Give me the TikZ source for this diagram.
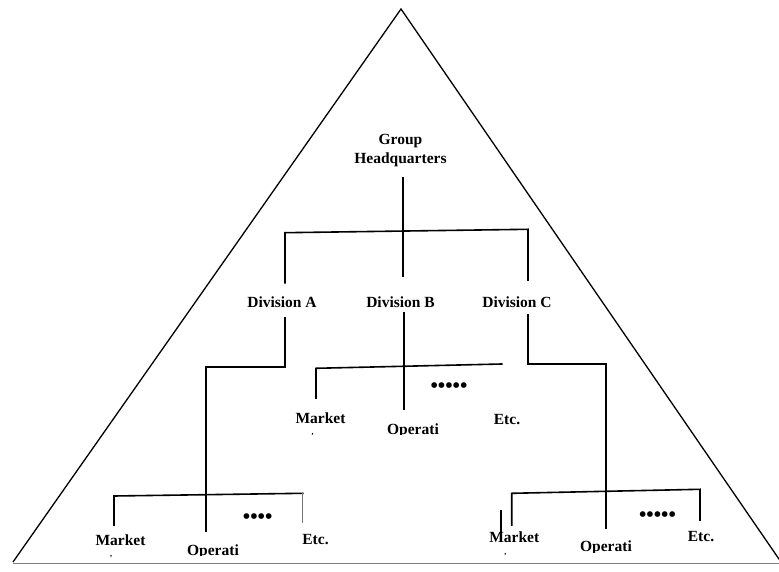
\documentclass[tikz,border=0pt]{standalone}
\usepackage{fontspec}
\setmainfont{Liberation Serif}
% a clipped second-line mark set just below a word, inside the same text
\newcommand{\lowmark}[1]{\rlap{\hspace{#1}\raisebox{-11.5pt}{\fontsize{8}{8}\selectfont,}}}
\begin{document}
\begin{tikzpicture}[x=1pt,y=-1pt,
  lbl/.style={font=\bfseries\fontsize{15.5}{18}\selectfont, inner sep=0pt, anchor=base},
  dots/.style={font=\bfseries\fontsize{21}{21}\selectfont, inner sep=0pt},
  org/.style={line width=1.6pt, line cap=rect},
  thin/.style={line width=0.9pt, black!55},
  side/.style={line width=1.3pt}]
\useasboundingbox (0,0) rectangle (779,572);

% pyramid outline and base rule
\begin{scope}
  \clip (0,0) rectangle (779,572);
  \coordinate (apex) at (401,9);
  \coordinate (bl) at (13,562);
  \coordinate (br) at (781,562);
  \draw[side] (bl) -- (apex) -- (br);
  \coordinate (rule0) at (13,563.5);
  \coordinate (rule1) at (779,563.5);
  \draw[line width=1.6pt, black!50] (rule0) -- (rule1);
\end{scope}

% top level
\node[lbl] (hq1) at (400.5,145) {Group};
\node[lbl] (hq2) at (400.5,163.5) {Headquarters};

\node[lbl] (divA) at (282,307.5) {Division A};
\node[lbl] (divB) at (400.5,307) {Division B};
\node[lbl] (divC) at (517,307) {Division C};

% headquarters to divisions
\coordinate (hqT) at (403,178);
\coordinate (hqB) at (403,276);
\coordinate (barL) at (285,232.7);
\coordinate (barR) at (528,229.3);
\coordinate (aT) at (285,282.7);
\coordinate (cT) at (528,280);
\draw[org] (hqT) -- (hqB);
\draw[org] (aT) -- (barL) -- (barR) -- (cT);

% Division B branch
\coordinate (bTop) at (404,313);
\coordinate (bBot) at (404,409);
\coordinate (bBarL) at (316,368.3);
\coordinate (bBarR) at (501.7,364);
\coordinate (bMk) at (316,398);
\draw[org] (bTop) -- (bBot);
\draw[org] (bMk) -- (bBarL) -- (bBarR);
\node[dots] (bDots) at (449,387.7) {•••••};
\node[lbl] (bMarket) at (320.5,423) {M\lowmark{1.5pt}arket};
\begin{scope}
  \clip (380,410) rectangle (446,434.3);
  \node[lbl] (bOper) at (413,434) {Operati};
\end{scope}
\node[lbl] (bEtc) at (507,424) {Etc.};

% Division A branch
\coordinate (aB1) at (285,318);
\coordinate (aB2) at (285,366.7);
\coordinate (aB3) at (206,366.7);
\coordinate (aB4) at (206,531);
\draw[org] (aB1) -- (aB2) -- (aB3) -- (aB4);
\coordinate (lBarL) at (114,496);
\coordinate (lBarR) at (302.7,493.3);
\coordinate (lMk) at (114,525);
\coordinate (lEt) at (302.7,523);
\draw[org] (lMk) -- (lBarL) -- (lBarR);
\draw[thin] (lBarR) -- (lEt);
\node[dots] (lDots) at (257.7,518.3) {••••};
\node[lbl] (lMarket) at (120.5,545) {M\lowmark{0pt}arket};
\begin{scope}
  \clip (180,530) rectangle (246,555.3);
  \node[lbl] (lOper) at (213,555) {Operati};
\end{scope}
\node[lbl] (lEtc) at (315.5,544) {Etc.};

% Division C branch
\coordinate (cB1) at (528,315);
\coordinate (cB2) at (528,364);
\coordinate (cB3) at (606,364);
\coordinate (cB4) at (606,528.3);
\draw[org] (cB1) -- (cB2) -- (cB3) -- (cB4);
\coordinate (rBarL) at (511.7,493.3);
\coordinate (rBarR) at (700,489.3);
\coordinate (rMk) at (511.7,525);
\coordinate (rEt) at (700,520);
\draw[org] (rMk) -- (rBarL) -- (rBarR) -- (rEt);
\coordinate (rS1) at (501,510);
\coordinate (rS2) at (501,538.3);
\draw[line width=1.3pt] (rS1) -- (rS2);
\node[dots] (rDots) at (657.5,516.7) {•••••};
\node[lbl] (rMarket) at (514.3,542.7) {M\lowmark{0.5pt}arket};
\begin{scope}
  \clip (573,525) rectangle (640,552);
  \node[lbl] (rOper) at (606,551.7) {Operati};
\end{scope}
\node[lbl] (rEtc) at (701,541.7) {Etc.};
\end{tikzpicture}
\end{document}
